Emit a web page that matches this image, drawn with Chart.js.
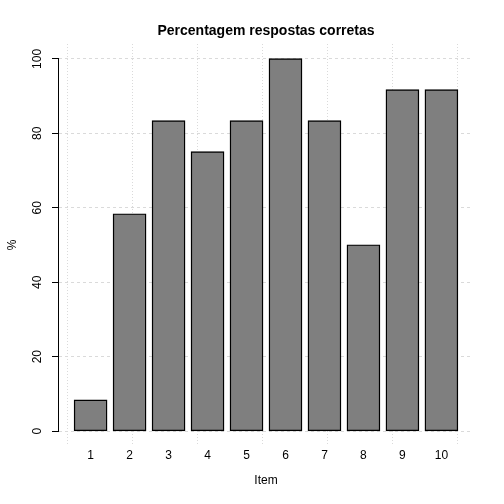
<!DOCTYPE html>
<html><head><meta charset="utf-8">
<script src="https://cdn.jsdelivr.net/npm/chart.js@4/dist/chart.umd.min.js"></script>
<style>html,body{margin:0;padding:0;background:#fff}#wrap{width:504px;height:504px}</style>
</head><body><div id="wrap"><canvas id="c" width="504" height="504"></canvas></div>
<script>
const categories = ['1','2','3','4','5','6','7','8','9','10'];
const percentCorrect = [8.333, 58.333, 83.333, 75, 83.333, 100, 83.333, 50, 91.667, 91.667];
const yTicks = [0, 20, 40, 60, 80, 100];
const gridXTicks = [0, 2, 4, 6, 8, 10, 12];
const titleText = 'Percentagem respostas corretas';
const xTitle = 'Item';
const yTitle = '%';

// R barplot geometry: width 1, space 0.2
const centers = categories.map((c, i) => 0.7 + 1.2 * i);
const points = percentCorrect.map((v, i) => ({x: centers[i], y: v}));
const XMIN = -0.272, XMAX = 12.472;
const FONT = '"Liberation Sans", Arial, Helvetica, sans-serif';

const deco = {
  id: 'deco',
  afterDraw(chart) {
    const ctx = chart.ctx, a = chart.chartArea, y = chart.scales.y;
    ctx.save();
    ctx.fillStyle = '#000';
    ctx.font = 'bold 14px ' + FONT;
    ctx.textAlign = 'center';
    ctx.textBaseline = 'middle';
    ctx.fillText(titleText, (a.left + a.right) / 2, 31);
    ctx.strokeStyle = '#000';
    ctx.lineWidth = 1;
    ctx.beginPath();
    const x = Math.round(a.left) - 0.5;
    ctx.moveTo(x, y.getPixelForValue(yTicks[0]));
    ctx.lineTo(x, y.getPixelForValue(yTicks[yTicks.length - 1]));
    ctx.stroke();
    ctx.restore();
  }
};

new Chart(document.getElementById('c'), {
  type: 'bar',
  data: {
    datasets: [{
      data: points,
      backgroundColor: '#7F7F7F',
      borderColor: '#000',
      borderWidth: 1.4,
      borderSkipped: false,
      inflateAmount: 0.6,
      barPercentage: 1 / 1.2,
      categoryPercentage: 1
    }]
  },
  options: {
    responsive: false,
    animation: false,
    devicePixelRatio: 1,
    layout: {padding: {top: 44, right: 31, left: 0, bottom: 0}},
    plugins: {legend: {display: false}, title: {display: false}, tooltip: {enabled: false}},
    scales: {
      x: {
        type: 'linear', position: 'bottom', min: XMIN, max: XMAX, offset: false,
        afterBuildTicks: s => { s.ticks = centers.map(v => ({value: v})); },
        afterFit: s => { s.height = 58; },
        ticks: {
          autoSkip: false, maxRotation: 0, minRotation: 0, padding: 2,
          color: '#000', font: {family: FONT, size: 12},
          callback: (v) => { const i = centers.findIndex(c => Math.abs(c - v) < 1e-6); return i >= 0 ? categories[i] : ''; }
        },
        grid: {display: false, drawTicks: false, offset: false},
        border: {display: false},
        title: {display: true, text: xTitle, color: '#000', font: {family: FONT, size: 12}, padding: {top: 0, bottom: 16}}
      },
      x2: {
        type: 'linear', position: 'top', min: XMIN, max: XMAX, offset: false, z: 1,
        afterBuildTicks: s => { s.ticks = gridXTicks.map(v => ({value: v})); },
        afterFit: s => { s.height = 0; },
        ticks: {display: false},
        grid: {color: '#DADADA', drawTicks: false, offset: false, lineWidth: 1},
        border: {display: false, dash: [1, 2]}
      },
      y: {
        type: 'linear', position: 'left', min: -4, max: 104, z: 1,
        afterBuildTicks: s => { s.ticks = yTicks.map(v => ({value: v})); },
        afterFit: s => { s.width = 59; },
        ticks: {
          minRotation: 90, maxRotation: 90, crossAlign: 'center', padding: 4,
          color: '#000', font: {family: FONT, size: 12}
        },
        grid: {color: '#DADADA', tickColor: '#000', tickBorderDash: [], tickLength: 7, lineWidth: 1},
        border: {display: false, dash: [3, 3]},
        title: {display: true, text: yTitle, color: '#000', font: {family: FONT, size: 12}, padding: {top: 5, bottom: 0}}
      }
    }
  },
  plugins: [deco]
});
</script>
</body></html>
